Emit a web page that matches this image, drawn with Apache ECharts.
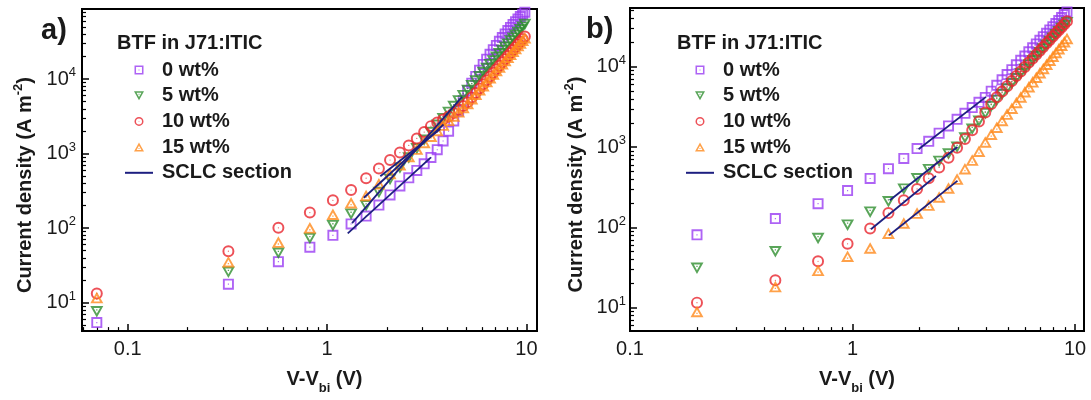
<!DOCTYPE html>
<html>
<head>
<meta charset="utf-8">
<title>J-V, BTF in J71:ITIC</title>
<script src="https://cdn.jsdelivr.net/npm/echarts@6.0.0/dist/echarts.min.js"></script>
<style>
  html, body { margin: 0; padding: 0; background: #fff; }
  #chart { width: 1091px; height: 400px; }
</style>
</head>
<body>
<div id="chart"></div>
<script>
// ---- data ----
const seriesNames = ['0 wt%', '5 wt%', '10 wt%', '15 wt%']
const fitName = 'SCLC section'
const legendTitle = 'BTF in J71:ITIC'
const panelLabels = ['a)', 'b)']

// panel a
const voltsA = [0.07, 0.32, 0.57, 0.82, 1.07, 1.32, 1.57, 1.82, 2.07, 2.32, 2.57, 2.82, 3.07, 3.32, 3.57, 3.82,
    4.07, 4.32, 4.57, 4.82, 5.07, 5.32, 5.57, 5.82, 6.07, 6.32, 6.57, 6.82, 7.07, 7.32, 7.57, 7.82,
    8.07, 8.32, 8.57, 8.82, 9.07, 9.32, 9.57, 9.82]
const wt0A = [5.4, 17.7, 35.5, 55.6, 80, 114, 145, 204, 279, 369, 474, 595, 731, 889, 1130, 1480,
    2000, 2750, 3750, 5150, 7000, 8820, 10890, 13210, 15760, 18520, 21540, 24820, 28360, 32150, 36170, 40390,
    44810, 49420, 54150, 59030, 64000, 69060, 74170, 79300]
const wt5A = [7.55, 25.5, 46, 72.6, 108, 154, 200, 300, 450, 640, 875, 1160, 1510, 1920, 2400, 2950,
    3580, 4290, 5100, 6000, 7050, 8180, 9420, 10780, 12270, 13900, 15660, 17580, 19630, 21850, 24230, 26780,
    29510, 32410, 35500, 38800, 42290, 46000, 49890, 54000]
const wt10A = [13.3, 49, 101, 162, 236, 325, 468, 630, 822, 1035, 1290, 1600, 1950, 2340, 2620, 2880,
    3150, 3500, 3900, 4350, 4880, 5670, 6530, 7480, 8510, 9640, 10860, 12190, 13610, 15150, 16800, 18560,
    20460, 22470, 24620, 26900, 29320, 31900, 34590, 37400]
const wt15A = [11.7, 35.5, 65, 101, 154, 219, 275, 394, 540, 712, 916, 1150, 1416, 1715, 2050, 2420,
    2800, 3200, 3650, 4150, 4700, 5450, 6280, 7190, 8180, 9270, 10440, 11720, 13090, 14570, 16150, 17850,
    19670, 21610, 23670, 25870, 28190, 30670, 33260, 36000]
// SCLC fits: [V start, J start, V end, J end]
const fitsA = [[1.27, 85, 3.32, 892], [1.335, 117, 4.75, 5770], [1.85, 498, 3.7, 2140], [1.53, 256, 3.84, 2460]]

// panel b
const voltsB = [0.2, 0.45, 0.7, 0.95, 1.2, 1.45, 1.7, 1.95, 2.2, 2.45, 2.7, 2.95, 3.2, 3.45, 3.7, 3.95,
    4.2, 4.45, 4.7, 4.95, 5.2, 5.45, 5.7, 5.95, 6.2, 6.45, 6.7, 6.95, 7.2, 7.45, 7.7, 7.95,
    8.2, 8.45, 8.7, 8.95, 9.2]
const wt0B = [81, 129, 198, 288, 408, 540, 725, 960, 1184, 1490, 1840, 2220, 2640, 3110, 3620, 4160,
    4970, 5880, 6890, 8000, 9220, 10590, 12050, 13630, 15380, 17260, 19260, 21400, 23700, 26150, 28800, 31600,
    34600, 37700, 41100, 44700, 48300]
const wt5B = [31, 49.8, 73, 107, 155, 209, 300, 404, 525, 665, 822, 996, 1300, 1670, 2100, 2610,
    3200, 3820, 4520, 5300, 6170, 7130, 8180, 9330, 10560, 11900, 13400, 15000, 16700, 18600, 20600, 22700,
    25000, 27400, 29900, 32600, 35500]
const wt10B = [11.6, 22, 38, 62.6, 97, 151, 218, 302, 410, 560, 740, 980, 1260, 1620, 2080, 2700,
    3450, 4170, 4920, 5750, 6660, 7670, 8770, 9980, 11290, 12700, 14200, 15900, 17700, 19600, 21600, 23800,
    26100, 28600, 31200, 34000, 36900]
const wt15B = [9.0, 18.4, 29.3, 44, 55.5, 85, 114, 151, 190, 240, 310, 400, 540, 690, 890, 1160,
    1450, 1775, 2150, 2580, 3060, 3610, 4220, 4910, 5670, 6510, 7430, 8450, 9560, 10770, 12080, 13530,
    15080, 16800, 18600, 20500, 22500]
const fitsB = [[1.98, 944, 3.98, 4230], [1.47, 218, 2.96, 1005], [1.21, 95, 2.37, 437], [1.46, 80, 2.96, 380]]

// axis ranges and minor tick multipliers
const xRangeA = [0.059, 11.3]
const yRangeA = [4.15, 87400]
const xRangeB = [0.1, 10.97]
const yRangeB = [5.13, 54000]
const minorSteps = [2, 3, 4, 5, 6, 7, 8, 9]
const decades = [-2, -1, 0, 1, 2, 3, 4]

// ---- styling ----
const FONT = '"Liberation Sans", Arial, sans-serif'
const INK = '#1a1a1a'
const colors = ['#9a3cf2', '#2f8f2f', '#e8262e', '#ff8a1c']
const navy = '#1d1f80'

// hollow markers with a small centre dot (outer ring clockwise, hole counter-clockwise)
const symSquare = 'path://M0,0H20V20H0Z M3.4,3.4V16.6H16.6V3.4Z M9,9H11V11H9Z'
const symDown = 'path://M0,0L20,0L10,18Z M5.1,3L10,11.8L14.9,3Z M9,5H11V7H9Z'
const symCircle = 'path://M10,0A10,10,0,1,1,10,20A10,10,0,1,1,10,0Z M10,3.3A6.7,6.7,0,1,0,10,16.7A6.7,6.7,0,1,0,10,3.3Z M10,9A1,1,0,1,1,10,11A1,1,0,1,1,10,9Z'
const symUp = 'path://M10,0L20,18L0,18Z M10,6.2L5.1,15L14.9,15Z M9,11H11V13H9Z'
const symbols = [symSquare, symDown, symCircle, symUp]
const symbolSizes = [11, [13, 11.5], 12, [13, 11.5]]
const lineIcon = 'path://M0,0H28V2H0Z'

// minor ticks sit on a hidden linear axis that spans log10 of the same range
const minorLogs = []
decades.forEach((d) => minorSteps.forEach((m) => minorLogs.push(Math.log10(m * Math.pow(10, d)))))

const mainAxisCommon = (gridIndex, range) => ({
    gridIndex,
    type: 'log',
    logBase: 10,
    min: range[0],
    max: range[1],
    splitLine: { show: false },
    axisLine: { show: true, onZero: false, lineStyle: { color: '#000', width: 2 } },
    axisTick: { show: true, inside: true, length: 7, lineStyle: { color: '#000', width: 1.5 } },
})

const minorAxis = (gridIndex, range, position) => ({
    gridIndex,
    type: 'value',
    position,
    min: Math.log10(range[0]),
    max: Math.log10(range[1]),
    splitLine: { show: false },
    axisLine: { show: false, onZero: false },
    axisLabel: { show: false },
    axisTick: { show: true, inside: true, length: 4, lineStyle: { color: '#000', width: 1.2 }, customValues: minorLogs },
})

const xName = '{t|V-V}{sub|bi}{t| (V)}'
const yName = '{t|Current density (A m}{sup|-2}{t|)}'

const xAxisFor = (gridIndex, range, shiftName) => Object.assign(mainAxisCommon(gridIndex, range), {
    position: 'bottom',
    axisLabel: {
        show: true,
        margin: 8,
        fontSize: 20,
        color: INK,
        fontFamily: FONT,
        showMinLabel: range[0] === 0.1,
        showMaxLabel: false,
        formatter: (v) => String(+v.toPrecision(1)),
    },
    name: xName,
    nameLocation: 'middle',
    nameGap: 22,
    nameTextStyle: {
        padding: [0, 0, 0, shiftName],
        rich: {
            t: { fontSize: 20, fontWeight: 'bold', color: INK, fontFamily: FONT, lineHeight: 22 },
            sub: { fontSize: 13, fontWeight: 'bold', color: INK, fontFamily: FONT, lineHeight: 14, padding: [18, 0, 0, 0] },
        },
    },
})

const yAxisFor = (gridIndex, range, labelMargin, nameGap) => Object.assign(mainAxisCommon(gridIndex, range), {
    position: 'left',
    axisLabel: {
        show: true,
        margin: labelMargin,
        showMinLabel: false,
        showMaxLabel: false,
        formatter: (v) => '{b|10}{s|' + Math.round(Math.log10(v)) + '}',
        rich: {
            b: { fontSize: 20, color: INK, fontFamily: FONT, lineHeight: 22 },
            s: { fontSize: 13, color: INK, fontFamily: FONT, lineHeight: 13, padding: [0, 0, 13, 0] },
        },
    },
    name: yName,
    nameLocation: 'middle',
    nameRotate: 90,
    nameGap,
    nameTextStyle: {
        padding: [0, 30, 0, 0],
        rich: {
            t: { fontSize: 20, fontWeight: 'bold', color: INK, fontFamily: FONT, lineHeight: 22 },
            sup: { fontSize: 13, fontWeight: 'bold', color: INK, fontFamily: FONT, lineHeight: 13, padding: [0, 0, 14, 0] },
        },
    },
})

const scatterSeries = (volts, values, k, axisIndex) => ({
    type: 'scatter',
    name: seriesNames[k],
    xAxisIndex: axisIndex,
    yAxisIndex: axisIndex,
    symbol: symbols[k],
    symbolSize: symbolSizes[k],
    itemStyle: { color: colors[k] },
    clip: false,
    z: 2,
    data: volts.map((v, i) => [v, values[i]]),
})

const fitSeries = (fit, axisIndex) => ({
    type: 'line',
    name: fitName,
    xAxisIndex: axisIndex,
    yAxisIndex: axisIndex,
    symbol: 'none',
    showSymbol: false,
    lineStyle: { color: navy, width: 1.8 },
    itemStyle: { color: navy },
    z: 3,
    data: [[fit[0], fit[1]], [fit[2], fit[3]]],
})

const legendFor = (left) => ({
    left,
    top: 60,
    orient: 'vertical',
    padding: 0,
    itemWidth: 28,
    itemHeight: 9,
    itemGap: 5.7,
    selectedMode: false,
    data: seriesNames.concat([{ name: fitName, icon: lineIcon }]),
    textStyle: { fontSize: 20, fontWeight: 'bold', color: INK, fontFamily: FONT, padding: [0, 0, 0, 4] },
})

const titleText = (text, left, top, size) => ({
    text,
    left,
    top,
    padding: 0,
    textStyle: { fontSize: size, fontWeight: 'bold', color: INK, fontFamily: FONT },
})

const series = []
;[wt0A, wt5A, wt10A, wt15A].forEach((vals, k) => series.push(scatterSeries(voltsA, vals, k, 0)))
fitsA.forEach((f) => series.push(fitSeries(f, 0)))
;[wt0B, wt5B, wt10B, wt15B].forEach((vals, k) => series.push(scatterSeries(voltsB, vals, k, 2)))
fitsB.forEach((f) => series.push(fitSeries(f, 2)))

const option = {
    animation: false,
    backgroundColor: '#fff',
    title: [
        titleText(panelLabels[0], 41, 16, 29),
        titleText(panelLabels[1], 586, 15, 29),
        titleText(legendTitle, 117, 33, 20),
        titleText(legendTitle, 677, 33, 20),
    ],
    legend: [legendFor(125), legendFor(686)],
    grid: [
        { left: 82, top: 9, width: 455, height: 333, show: true, borderColor: '#000', borderWidth: 2 },
        { left: 630, top: 8, width: 454, height: 334, show: true, borderColor: '#000', borderWidth: 2 },
    ],
    xAxis: [
        xAxisFor(0, xRangeA, 30),
        minorAxis(0, xRangeA, 'bottom'),
        xAxisFor(1, xRangeB, 0),
        minorAxis(1, xRangeB, 'bottom'),
    ],
    yAxis: [
        yAxisFor(0, yRangeA, 6, 46),
        minorAxis(0, yRangeA, 'left'),
        yAxisFor(1, yRangeB, 4, 43),
        minorAxis(1, yRangeB, 'left'),
    ],
    series,
}

const chart = echarts.init(document.getElementById('chart'), null, { renderer: 'canvas' })
chart.setOption(option)
</script>
</body>
</html>
